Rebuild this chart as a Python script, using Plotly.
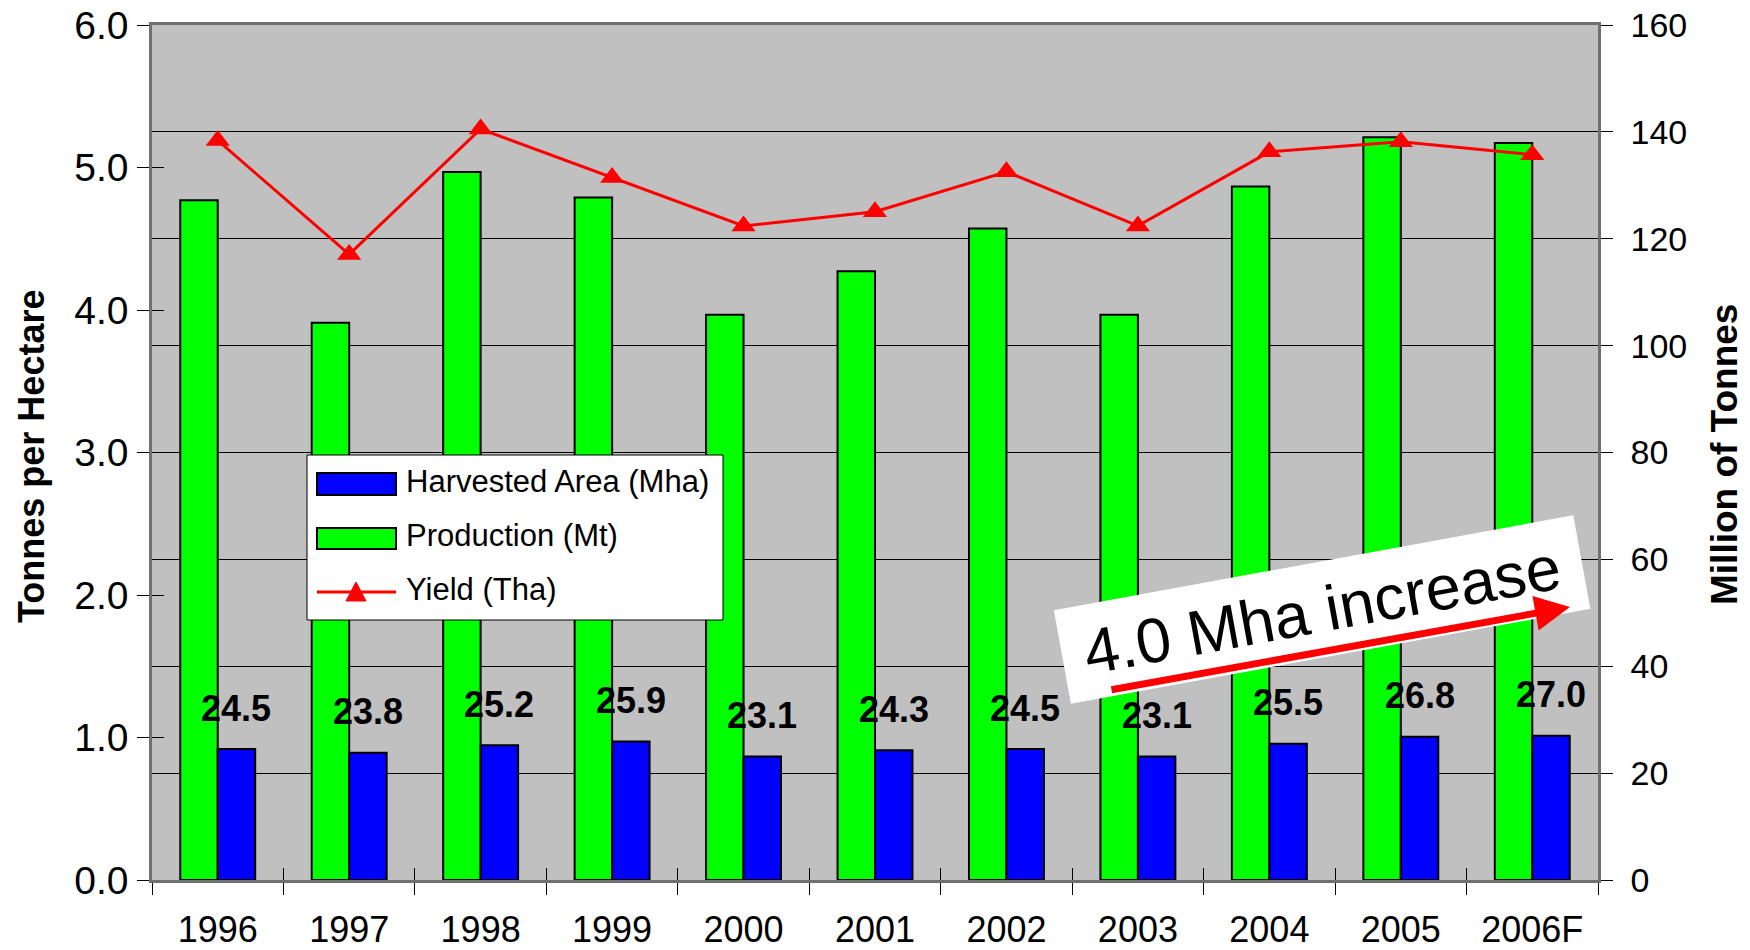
import plotly.graph_objects as go

# ---------------- data ----------------
years = ["1996", "1997", "1998", "1999", "2000", "2001", "2002", "2003", "2004", "2005", "2006F"]
area_mha = [24.5, 23.8, 25.2, 25.9, 23.1, 24.3, 24.5, 23.1, 25.5, 26.8, 27.0]
production_mt = [127.2, 104.3, 132.5, 127.7, 105.8, 113.9, 121.9, 105.8, 129.8, 139.0, 137.9]
yield_tha = [5.19, 4.39, 5.27, 4.93, 4.59, 4.69, 4.97, 4.59, 5.11, 5.18, 5.09]
left_ticks = [0, 1, 2, 3, 4, 5, 6]
right_ticks = [0, 20, 40, 60, 80, 100, 120, 140, 160]
series_names = ["Harvested Area (Mha)", "Production (Mt)", "Yield (Tha)"]
left_title = "Tonnes per Hectare"
right_title = "Million of Tonnes"
callout_text = "4.0 Mha increase"

# ---------------- layout geometry (page pixels) ----------------
W, H = 1750, 950
PL, PR, PT, PB = 152, 1598, 25, 880
FONT = "Arial, Liberation Sans, sans-serif"
BARGAP = 0.43
GREEN, BLUE, RED = "#00FF00", "#0000FF", "#FF0000"
AXISGRAY = "#707070"


def px(x):
    return (x - PL) / (PR - PL)


def py(y):
    return (PB - y) / (PB - PT)


fig = go.Figure()
fig.add_trace(go.Bar(x=years, y=production_mt, name=series_names[1],
                     marker=dict(color=GREEN, line=dict(color="black", width=2)),
                     xaxis="x", yaxis="y", showlegend=False, hoverinfo="x+y"))
fig.add_trace(go.Bar(x=years, y=area_mha, name=series_names[0],
                     marker=dict(color=BLUE, line=dict(color="black", width=2)),
                     xaxis="x", yaxis="y", showlegend=False, hoverinfo="x+y"))
fig.add_trace(go.Scatter(x=years, y=yield_tha, name=series_names[2], mode="lines+markers",
                         line=dict(color=RED, width=3),
                         marker=dict(symbol="triangle-up", size=21, color=RED),
                         xaxis="x", yaxis="y2", showlegend=False))
# helper traces that carry the inner-tick overlay axes
fig.add_trace(go.Scatter(x=years, y=[None] * len(years), xaxis="x2", yaxis="y",
                         showlegend=False, hoverinfo="skip"))
fig.add_trace(go.Scatter(x=years, y=[None] * len(years), xaxis="x", yaxis="y3",
                         showlegend=False, hoverinfo="skip"))
fig.add_trace(go.Scatter(x=years, y=[None] * len(years), xaxis="x", yaxis="y4",
                         showlegend=False, hoverinfo="skip"))

xr = [-0.5, len(years) - 0.5]
common = dict(tickcolor="black", tickwidth=1, ticklen=12, automargin=False, zeroline=False,
              ticklabeloverflow="allow")

layout = dict(
    width=W, height=H,
    margin=dict(l=PL, r=W - PR, t=PT, b=H - PB, pad=0, autoexpand=False),
    paper_bgcolor="white", plot_bgcolor="#C0C0C0",
    barmode="group", bargap=BARGAP, bargroupgap=0,
    showlegend=False,
    font=dict(family=FONT, color="black"),
    xaxis=dict(type="category", range=xr, tickson="boundaries", ticks="outside",
               showline=True, linecolor=AXISGRAY, linewidth=2.5, mirror=True,
               showgrid=False, tickfont=dict(size=36, family=FONT),
               ticklabelstandoff=16, **common),
    xaxis2=dict(type="category", range=xr, overlaying="x", anchor="y", side="bottom",
                tickson="boundaries", ticks="inside", showticklabels=False,
                showline=False, showgrid=False, **common),
    yaxis=dict(side="right", range=[0, 160], tickvals=right_ticks, ticks="outside",
               showline=True, linecolor=AXISGRAY, linewidth=2.5,
               showgrid=True, gridcolor="black", gridwidth=1,
               tickfont=dict(size=34, family=FONT), ticklabelstandoff=11, **common),
    yaxis2=dict(side="left", overlaying="y", range=[0, 6], tickvals=left_ticks,
                tickformat=".1f", ticks="outside", showline=True, linecolor=AXISGRAY,
                linewidth=2.5, showgrid=False,
                tickfont=dict(size=39, family=FONT), ticklabelstandoff=1, **common),
    yaxis3=dict(side="right", overlaying="y", range=[0, 160], tickvals=right_ticks,
                ticks="inside", showticklabels=False, showline=False, showgrid=False,
                **common),
    yaxis4=dict(side="left", overlaying="y", range=[0, 6], tickvals=left_ticks,
                ticks="inside", showticklabels=False, showline=False, showgrid=False,
                **common),
)
fig.update_layout(**layout)

annotations = []
# data labels above the harvested-area bars
cat_w = (PR - PL) / len(years)
bar_w = cat_w * (1 - BARGAP) / 2
for i, v in enumerate(area_mha):
    annotations.append(dict(x=i, y=v, xref="x", yref="y", text=f"{v:.1f}",
                            showarrow=False, xshift=bar_w / 2, yshift=41,
                            xanchor="center", yanchor="middle",
                            font=dict(size=36, family=FONT, weight="bold", color="black")))

# axis titles
annotations.append(dict(x=px(31), y=py(457), xref="paper", yref="paper", text=left_title,
                        textangle=-90, showarrow=False, xanchor="center", yanchor="middle",
                        font=dict(size=36, family=FONT, weight="bold")))
annotations.append(dict(x=px(1724), y=py(454), xref="paper", yref="paper", text=right_title,
                        textangle=-90, showarrow=False, xanchor="center", yanchor="middle",
                        font=dict(size=37, family=FONT, weight="bold")))

# custom legend
shapes = []
shapes.append(dict(type="rect", xref="paper", yref="paper", x0=px(307), x1=px(723),
                   y0=py(620), y1=py(455), fillcolor="white", line=dict(color="black", width=1),
                   layer="above"))
shapes.append(dict(type="rect", xref="paper", yref="paper", x0=px(317), x1=px(396),
                   y0=py(495), y1=py(473), fillcolor=BLUE, line=dict(color="black", width=2),
                   layer="above"))
shapes.append(dict(type="rect", xref="paper", yref="paper", x0=px(317), x1=px(396),
                   y0=py(549), y1=py(528), fillcolor=GREEN, line=dict(color="black", width=2),
                   layer="above"))
shapes.append(dict(type="line", xref="paper", yref="paper", x0=px(317), x1=px(396),
                   y0=py(592), y1=py(592), line=dict(color=RED, width=3), layer="above"))
tri = "M {:.5f},{:.5f} L {:.5f},{:.5f} L {:.5f},{:.5f} Z".format(
    px(356), py(582), px(346), py(601), px(366), py(601))
shapes.append(dict(type="path", xref="paper", yref="paper", path=tri, fillcolor=RED,
                   line=dict(color=RED, width=1), layer="above"))
for name, yc in zip(series_names, [481, 535, 589]):
    annotations.append(dict(x=px(404), y=py(yc), xref="paper", yref="paper", text=name,
                            showarrow=False, xanchor="left", yanchor="middle",
                            font=dict(size=31, family=FONT)))

# rotated callout box and arrow
annotations.append(dict(x=px(1322), y=py(609), xref="paper", yref="paper", text=callout_text,
                        showarrow=False, xanchor="center", yanchor="middle",
                        textangle=-10.35, width=528, height=95, bgcolor="white",
                        borderpad=0, borderwidth=0,
                        font=dict(size=63, family=FONT, color="black")))
annotations.append(dict(x=px(1570), y=py(607), xref="paper", yref="paper", text="",
                        showarrow=True, arrowhead=2, arrowsize=1, arrowwidth=7,
                        arrowcolor=RED, ax=1110 - 1570, ay=690 - 607, standoff=0))

fig.update_layout(annotations=annotations, shapes=shapes)
fig.write_html("out.html", config={"displayModeBar": False},
               post_script="document.body.style.margin='0px';document.body.style.overflow='hidden';")
